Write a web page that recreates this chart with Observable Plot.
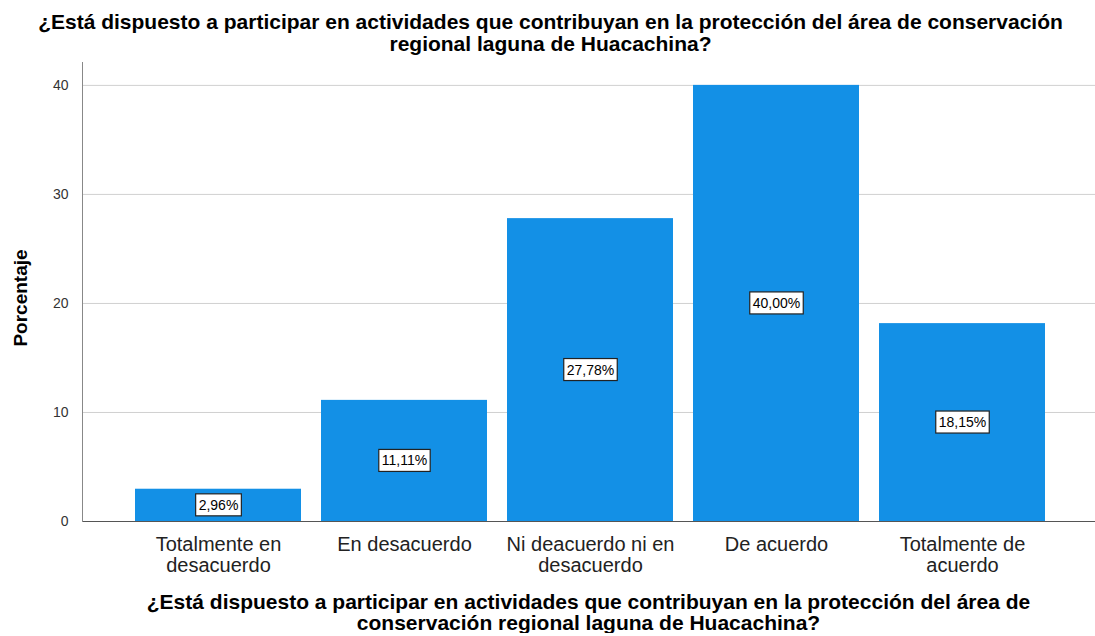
<!DOCTYPE html>
<html><head><meta charset="utf-8">
<script src="https://cdn.jsdelivr.net/npm/d3@7"></script>
<script src="https://cdn.jsdelivr.net/npm/@observablehq/plot@0.6"></script>
<style>
body{margin:0;background:#fff;font-family:"Liberation Sans",Arial,sans-serif;}
#wrap{width:1095px;position:relative;}
#title{font-weight:bold;font-size:21px;text-align:center;line-height:22px;padding-top:11px;height:44px;color:#000;margin-left:6px;white-space:nowrap;}
#xtitle{font-weight:bold;font-size:21px;text-align:center;line-height:21px;width:1013px;margin-left:82px;margin-top:6px;color:#000;white-space:nowrap;}
</style></head><body>
<div id="wrap">
<div id="title">¿Está dispuesto a participar en actividades que contribuyan en la protección del área de conservación<br>regional laguna de Huacachina?</div>
<div id="chart"></div>
<div id="xtitle">¿Está dispuesto a participar en actividades que contribuyan en la protección del área de<br>conservación regional laguna de Huacachina?</div>
</div>
<script>
const categories = ["Totalmente en desacuerdo","En desacuerdo","Ni deacuerdo ni en desacuerdo","De acuerdo","Totalmente de acuerdo"];
const tickLabels = ["Totalmente en\ndesacuerdo","En desacuerdo","Ni deacuerdo ni en\ndesacuerdo","De acuerdo","Totalmente de\nacuerdo"];
const values = [2.96, 11.11, 27.78, 40.00, 18.15];
const valueLabels = ["2,96%","11,11%","27,78%","40,00%","18,15%"];
const yTicks = [0,10,20,30,40];

const data = categories.map((c,i)=>({cat:c, v:values[i], lab:valueLabels[i], mid: values[i]/2}));
const tickMap = new Map(categories.map((c,i)=>[c,tickLabels[i]]));

const chart = Plot.plot({
  width: 1095, height: 530,
  marginLeft: 82, marginRight: 0, marginTop: 7, marginBottom: 64,
  style: {fontFamily: '"Liberation Sans", Arial, sans-serif', background: "#fff", overflow: "hidden"},
  x: {domain: categories, range: [82, 1098], paddingInner: 0.107, paddingOuter: 0.28, label: null},
  y: {domain: [0, 42.1], label: null},
  marks: [
    Plot.gridY(yTicks, {stroke: "#d0d0d0", strokeOpacity: 1, strokeWidth: 1}),
    Plot.barY(data, {x: "cat", y: "v", fill: "#1390e6"}),
    Plot.ruleY([0], {stroke: "#555", strokeWidth: 1}),
    Plot.frame({anchor: "left", stroke: "#888"}),
    Plot.axisY(yTicks, {tickSize: 0, tickPadding: 14, fontSize: 14, fill: "#333", label: null}),
    Plot.axisX({tickSize: 0, tickPadding: 15, fontSize: 20, fill: "#222", lineHeight: 1.05, tickFormat: d => tickMap.get(d), label: null}),
    Plot.text(data, {x: "cat", y: "mid", text: "lab", fontSize: 14, fill: "#000", className: "vlab"}),
    Plot.text(["Porcentaje"], {frameAnchor: "left", dx: -62, dy: 6, textAnchor: "middle", rotate: -90, fontSize: 19, fontWeight: "bold", fill: "#000"})
  ]
});
document.getElementById("chart").appendChild(chart);

// draw white framed boxes behind value labels
chart.querySelectorAll("g.vlab text").forEach(t => {
  const b = t.getBBox();
  const r = document.createElementNS("http://www.w3.org/2000/svg","rect");
  r.setAttribute("x", b.x - 3); r.setAttribute("y", b.y - 3);
  r.setAttribute("width", b.width + 6); r.setAttribute("height", b.height + 6);
  r.setAttribute("fill", "#fff"); r.setAttribute("stroke", "#222"); r.setAttribute("stroke-width", 1.2);
  const tr = t.getAttribute("transform");
  if (tr) r.setAttribute("transform", tr);
  t.parentNode.insertBefore(r, t);
});
</script>
</body></html>
